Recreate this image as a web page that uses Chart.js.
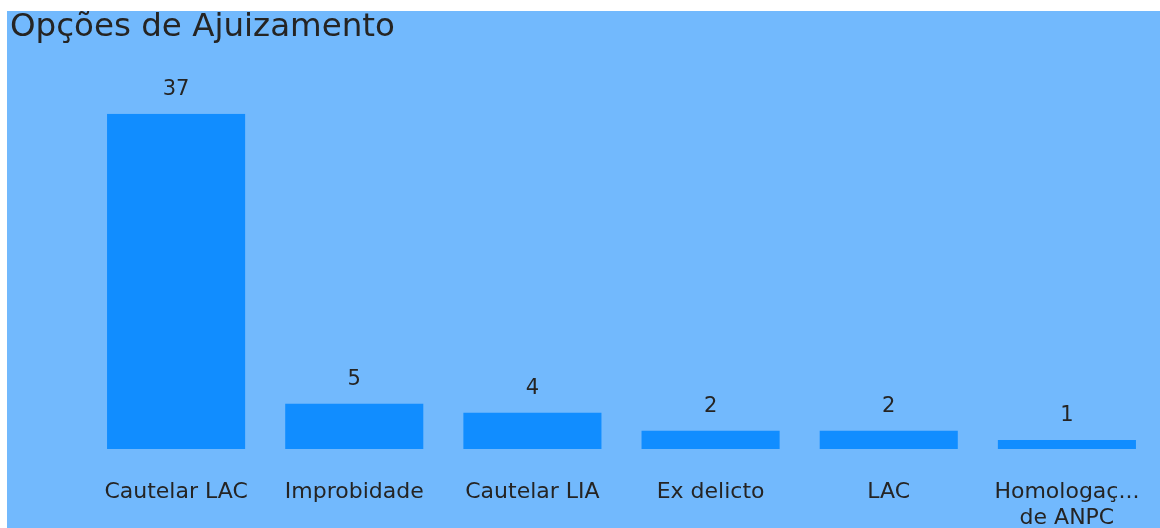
<!DOCTYPE html>
<html>
<head>
<meta charset="utf-8">
<script src="https://cdn.jsdelivr.net/npm/chart.js@4/dist/chart.umd.min.js"></script>
<style>
  html, body { margin: 0; padding: 0; background: #fff; }
  #wrap { position: absolute; left: 7px; top: 11px; width: 1153px; height: 517px; background: #72b9fd; }
</style>
</head>
<body>
<div id="wrap"><canvas id="bar_chart" width="1153" height="517"></canvas></div>
<script>
const categories = ['Cautelar LAC', 'Improbidade', 'Cautelar LIA', 'Ex delicto', 'LAC', ['Homologaç...', 'de ANPC']];
const counts = [37, 5, 4, 2, 2, 1];

const textColor = '#252423';

// values printed above each bar
const valueLabels = {
    id: 'valueLabels',
    afterDatasetsDraw(chart) {
        const ctx = chart.ctx;
        const meta = chart.getDatasetMeta(0);
        ctx.save();
        ctx.font = '21px "DejaVu Sans"';
        ctx.fillStyle = textColor;
        ctx.textAlign = 'center';
        ctx.textBaseline = 'middle';
        meta.data.forEach((bar, i) => {
            ctx.fillText(String(counts[i]), bar.x, bar.y - 24);
        });
        ctx.restore();
    }
};

let myChart = document.getElementById('bar_chart').getContext('2d');
let bar_chart = new Chart(myChart, {
    type: 'bar',
    data: {
        labels: categories,
        datasets: [{
            label: 'Opções de Ajuizamento',
            data: counts,
            backgroundColor: '#118dff',
            borderWidth: 0,
            categoryPercentage: 1,
            barPercentage: 0.775
        }]
    },
    options: {
        responsive: false,
        animation: false,
        layout: {
            padding: { left: 3, right: 4, top: 0, bottom: 0 }
        },
        plugins: {
            legend: { display: false },
            tooltip: { enabled: false },
            title: {
                display: true,
                text: 'Opções de Ajuizamento',
                align: 'start',
                color: textColor,
                font: { family: '"DejaVu Sans"', size: 32.5, weight: 'normal', lineHeight: 0.85 },
                padding: { top: 3, bottom: 72 }
            }
        },
        scales: {
            x: {
                grid: { display: false, drawTicks: false },
                border: { display: false },
                ticks: {
                    color: textColor,
                    font: { family: '"DejaVu Sans"', size: 22, lineHeight: 1.18 },
                    padding: 30,
                    maxRotation: 0,
                    autoSkip: false
                },
                afterFit(scale) {
                    scale.height = 79;
                    scale.paddingLeft = 0;
                    scale.paddingRight = 0;
                }
            },
            y: {
                min: 0,
                max: 37,
                grid: { display: false, drawTicks: false },
                border: { display: false },
                ticks: { display: false },
                afterFit(scale) { scale.width = 77; }
            }
        }
    },
    plugins: [valueLabels]
});
</script>
</body>
</html>
